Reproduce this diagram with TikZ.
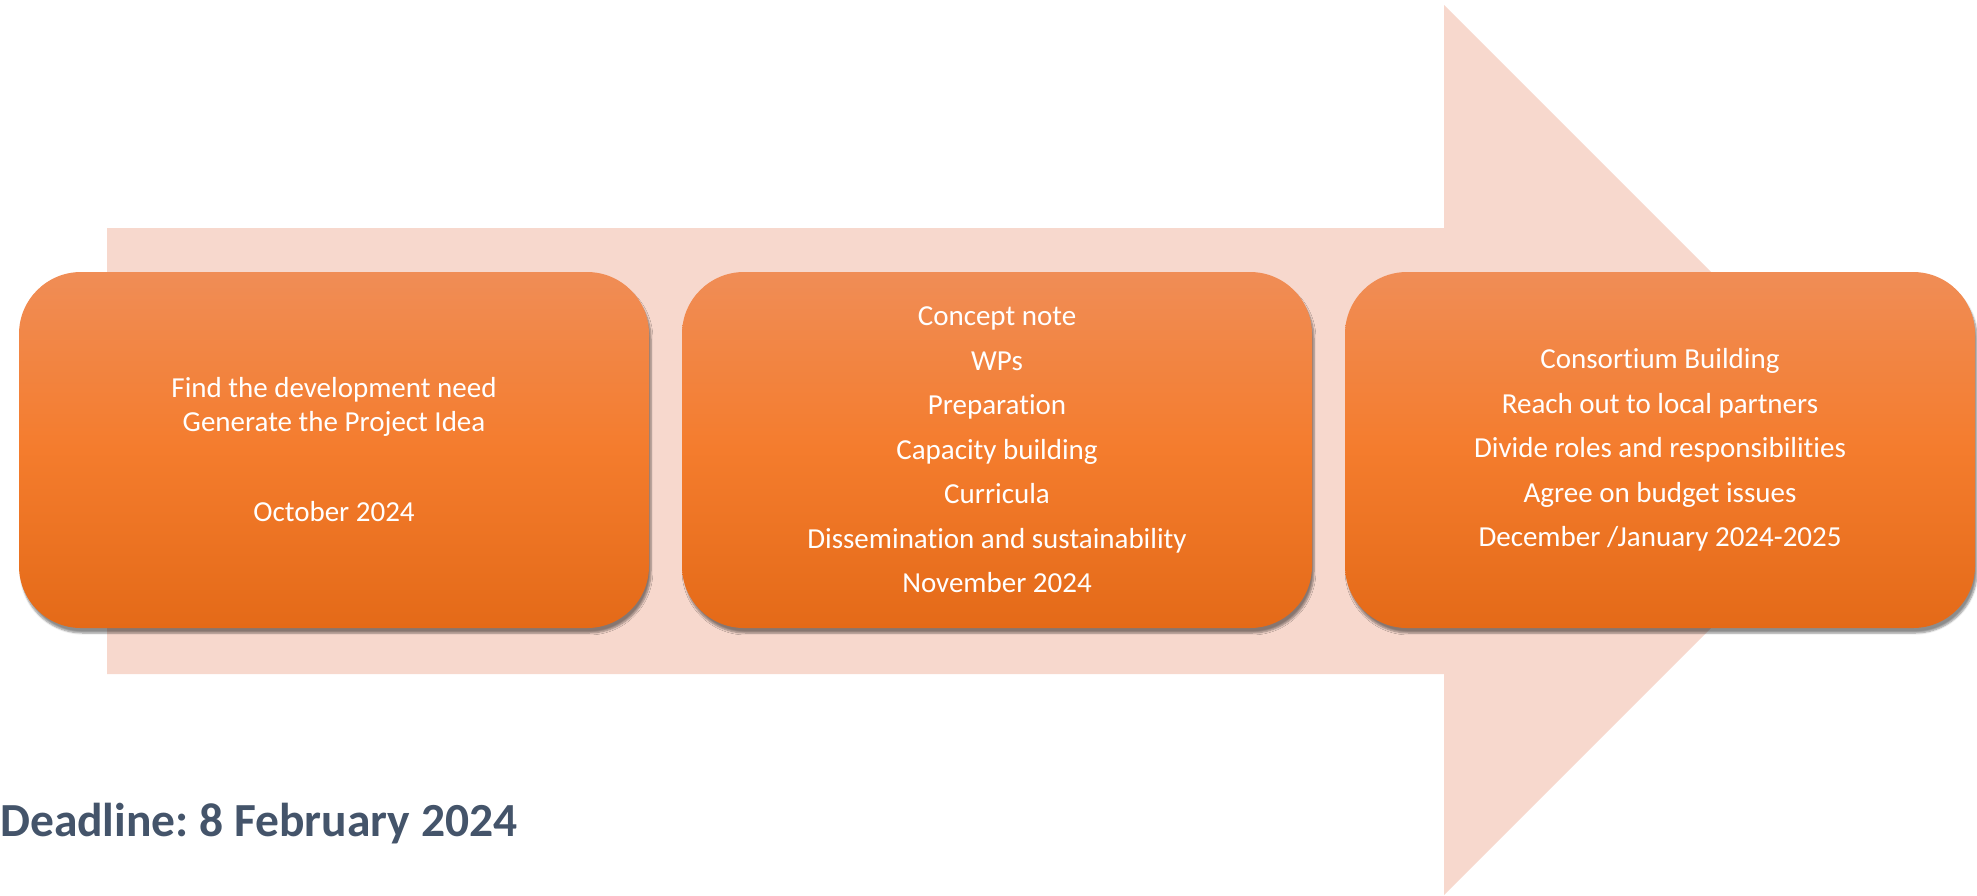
\documentclass[tikz,border=0pt]{standalone}
\usepackage{fontspec}
\setmainfont{Carlito}[Ligatures=NoCommon]
\frenchspacing
\usetikzlibrary{shadows.blur}
\definecolor{arrowpink}{HTML}{F7D8CD}
\definecolor{boxtop}{HTML}{F08D56}
\definecolor{boxmid}{HTML}{F47C2D}
\definecolor{boxbot}{HTML}{E46A18}
\definecolor{deadblue}{HTML}{44546A}
\begin{document}
\begin{tikzpicture}[x=1pt,y=-1pt,
    phase/.style={rounded corners=62pt, minimum width=630pt, minimum height=356pt,
        top color=boxtop, bottom color=boxbot, middle color=boxmid,
        blur shadow={shadow xshift=2pt, shadow yshift=-5pt, shadow blur steps=6,
            shadow opacity=45},
        text=white, align=center, inner sep=0pt},
    phasetext/.style={font=\fontsize{29}{44.5}\selectfont}]
    \useasboundingbox (0,0) rectangle (1977,895);
    % big pale arrow behind the phases
    \fill[arrowpink] (107,228) -- (1444,228) -- (1444,5) -- (1889,450)
        -- (1444,895) -- (1444,674) -- (107,674) -- cycle;
    % the three phases
    \node[phase, font=\fontsize{29}{34}\selectfont] (idea) at (334,450)
        {Find the development need\\Generate the Project Idea\\[56pt]October 2024};
    \node[phase, phasetext] (concept) at (997,450)
        {Concept note\\WPs\\Preparation\\Capacity building\\Curricula\\
         Dissemination and sustainability\\November 2024};
    \node[phase, phasetext] (consortium) at (1660,450)
        {Consortium Building\\Reach out to local partners\\
         Divide roles and responsibilities\\Agree on budget issues\\
         December /January 2024-2025};
    \node[anchor=base west, inner sep=0pt, text=deadblue,
        font=\bfseries\fontsize{47.5}{58}\selectfont] (deadline) at (0,836)
        {Deadline: 8 February 2024};
\end{tikzpicture}
\end{document}
